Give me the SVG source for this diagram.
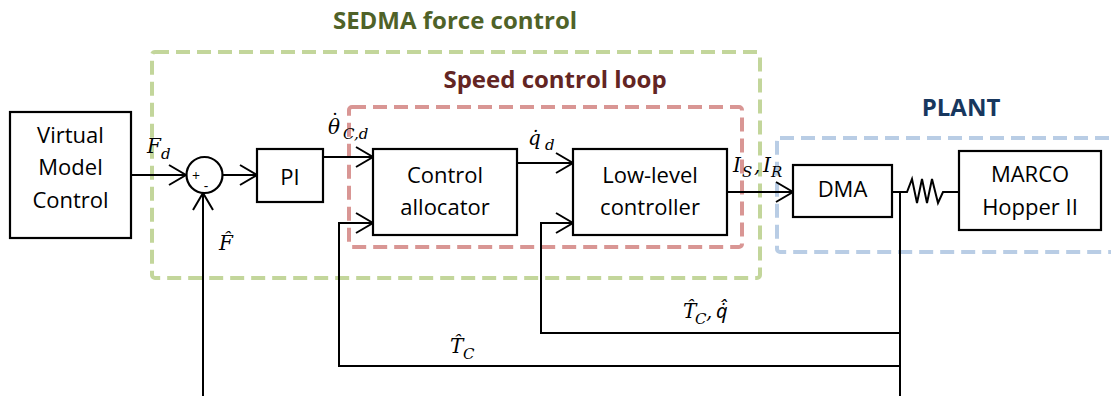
<svg xmlns="http://www.w3.org/2000/svg" width="1111" height="396" viewBox="0 0 1111 396">
<style>
.box{fill:#fff;stroke:#000;stroke-width:2.2}
.lbl{font-family:"Open Sans","Liberation Sans",sans-serif;font-size:22px;fill:#000;text-anchor:middle}
.ttl{font-family:"Open Sans","Liberation Sans",sans-serif;font-size:24px;font-weight:bold;text-anchor:middle}
.m{font-family:"DejaVu Serif","Liberation Serif",serif;font-style:italic;font-size:20px;fill:#000}
.mn{font-family:"Noto Sans","DejaVu Sans",sans-serif;font-style:italic;font-size:20px;fill:#000}
.ms{font-family:"DejaVu Serif","Liberation Serif",serif;font-size:15px}
.w{fill:none;stroke:#000;stroke-width:2}
.a{fill:none;stroke:#000;stroke-width:2;marker-end:url(#arr)}
.reg{fill:none;stroke-width:4;stroke-dasharray:14 7}
</style>
<defs>
<marker id="arr" markerUnits="userSpaceOnUse" viewBox="-19 -12 21 24" refX="0" refY="0" markerWidth="21" markerHeight="24" orient="auto" overflow="visible">
<path d="M-17,-10 L0,0 L-17,10" fill="none" stroke="#000" stroke-width="2"/>
</marker>
</defs>
<rect width="1111" height="396" fill="#fff"/>

<g id="region-sedma">
<rect class="reg" x="152" y="52" width="608" height="226" rx="3" stroke="#c3d69b"/>
<text class="ttl" x="455" y="29" fill="#4f6228">SEDMA force control</text>
</g>
<g id="region-speed">
<rect class="reg" x="349" y="107" width="393" height="140" rx="3" stroke="#d99694" stroke-dasharray="12 6"/>
<text class="ttl" x="555" y="88" fill="#632523">Speed control loop</text>
</g>
<g id="region-plant">
<rect class="reg" x="777" y="138" width="360" height="114" rx="3" stroke="#b9cde5" stroke-dasharray="13 7"/>
<text class="ttl" x="961" y="116" fill="#17375e">PLANT</text>
</g>

<g id="connectors">
<line class="a" x1="131" y1="175" x2="186" y2="175"/>
<line class="a" x1="223" y1="175" x2="257" y2="175"/>
<line class="a" x1="203" y1="396" x2="203" y2="193"/>
<line class="a" x1="323" y1="157" x2="373" y2="157"/>
<polyline class="a" points="900,366 339,366 339,223 373,223"/>
<line class="a" x1="517" y1="163" x2="573" y2="163"/>
<polyline class="a" points="900,333 541,333 541,223 573,223"/>
<line class="a" x1="727" y1="192" x2="793" y2="192"/>
<line class="w" x1="900" y1="192" x2="900" y2="396"/>
<polyline class="w" points="892,192 907,192 912,179 917,203 922,179 927,203 932,179 938,203 943,192 959,192"/>
</g>

<g id="labels">
<text class="m" x="147" y="153">F<tspan class="ms" x="161" y="159">d</tspan></text>
<text class="m" x="219" y="250">F̂</text>
<text class="m" x="328" y="134">θ<tspan font-style="normal" dx="-10" dy="-6">˙</tspan><tspan class="ms" x="343" y="139">C,d</tspan></text>
<text class="m" x="528" y="145">q̇<tspan class="ms" x="545" y="150">d</tspan></text>
<text class="m" x="733" y="172">I<tspan class="ms" x="742" y="177">S</tspan><tspan x="754" y="172">,</tspan><tspan x="763" y="172">I</tspan><tspan class="ms" x="771" y="177">R</tspan></text>
<text class="m" x="683" y="318">T̂<tspan class="ms" x="695" y="324">C</tspan><tspan x="706" y="318">,</tspan><tspan class="mn" x="716" y="318">q̇̂</tspan></text>
<text class="m" x="450" y="353">T̂<tspan class="ms" x="463" y="359">C</tspan></text>
</g>

<g id="vmc">
<rect class="box" x="10" y="112" width="121" height="126"/>
<text class="lbl" x="70.5" y="143">Virtual</text>
<text class="lbl" x="70.5" y="175">Model</text>
<text class="lbl" x="70.5" y="208">Control</text>
</g>
<g id="sum">
<circle class="box" cx="204.5" cy="175" r="18"/>
<text x="196" y="181" font-family="Open Sans, sans-serif" font-size="14" text-anchor="middle">+</text>
<text x="206" y="191" font-family="Open Sans, sans-serif" font-size="14" text-anchor="middle">-</text>
</g>
<g id="pi">
<rect class="box" x="257" y="149" width="66" height="53"/>
<text class="lbl" x="290" y="185">PI</text>
</g>
<g id="alloc">
<rect class="box" x="373" y="149" width="144" height="86"/>
<text class="lbl" x="445" y="183">Control</text>
<text class="lbl" x="445" y="215">allocator</text>
</g>
<g id="llc">
<rect class="box" x="573" y="149" width="154" height="86"/>
<text class="lbl" x="650" y="183">Low-level</text>
<text class="lbl" x="650" y="215">controller</text>
</g>
<g id="dma">
<rect class="box" x="793" y="165" width="99" height="52"/>
<text class="lbl" x="842.5" y="197">DMA</text>
</g>
<g id="marco">
<rect class="box" x="959" y="151" width="142" height="79"/>
<text class="lbl" x="1030" y="182">MARCO</text>
<text class="lbl" x="1030" y="215">Hopper II</text>
</g>
</svg>
